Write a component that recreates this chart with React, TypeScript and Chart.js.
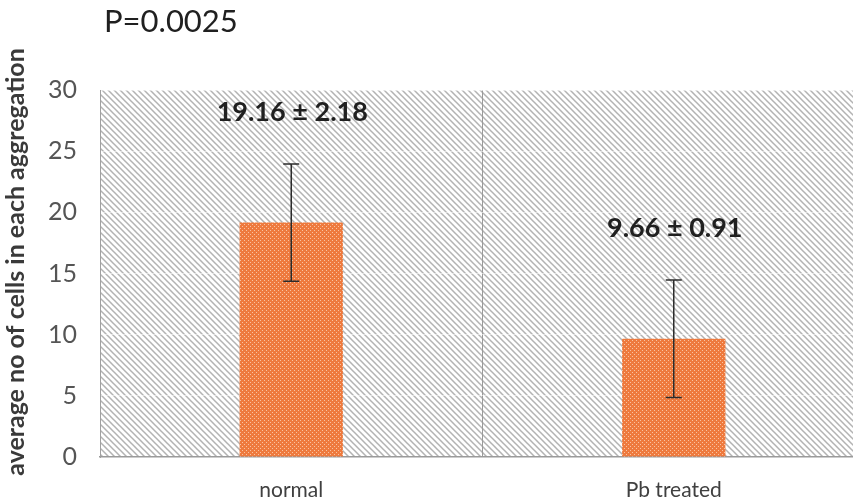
import React, { useEffect, useRef } from "react";
import { Chart, registerables } from "chart.js";

Chart.register(...registerables);

const categories = ["normal", "Pb treated"];
const means = [19.16, 9.66];
const errors = [4.8, 4.8];
const valueLabels = ["19.16 ± 2.18", "9.66 ± 0.91"];
const titleText = "P=0.0025";
const yTitle = "average no of cells in each aggregation";
const yMin = 0;
const yMax = 30;
const yStep = 5;

const FONT = "Lato, 'Open Sans', sans-serif";

function makeHatch(): CanvasPattern | string {
  const c = document.createElement("canvas");
  c.width = 6;
  c.height = 6;
  const g = c.getContext("2d");
  if (!g) return "#ddd";
  g.fillStyle = "#ffffff";
  g.fillRect(0, 0, 6, 6);
  g.strokeStyle = "#b3b3b3";
  g.lineWidth = 1.5;
  g.beginPath();
  g.moveTo(-1, -1);
  g.lineTo(7, 7);
  g.moveTo(-4, 2);
  g.lineTo(4, 10);
  g.moveTo(2, -4);
  g.lineTo(10, 4);
  g.stroke();
  return g.createPattern(c, "repeat") || "#ddd";
}

function makeDots(): CanvasPattern | string {
  const c = document.createElement("canvas");
  c.width = 4;
  c.height = 4;
  const g = c.getContext("2d");
  if (!g) return "#ef7f45";
  g.fillStyle = "#ee7a3e";
  g.fillRect(0, 0, 4, 4);
  g.fillStyle = "#f9c3a2";
  g.fillRect(0, 0, 1, 1);
  g.fillRect(2, 2, 1, 1);
  return g.createPattern(c, "repeat") || "#ef7f45";
}

export default function App() {
  const ref = useRef<HTMLCanvasElement>(null);

  useEffect(() => {
    if (!ref.current) return;
    const hatch = makeHatch();
    const dots = makeDots();

    const bgPlugin = {
      id: "bgHatch",
      beforeDraw(chart: any) {
        const { ctx, chartArea } = chart;
        ctx.save();
        ctx.fillStyle = hatch;
        ctx.fillRect(chartArea.left, chartArea.top, chartArea.right - chartArea.left, chartArea.bottom - chartArea.top);
        ctx.restore();
      },
    };

    const overlayPlugin = {
      id: "overlay",
      afterDatasetsDraw(chart: any) {
        const { ctx, scales } = chart;
        const y = scales.y;
        const meta = chart.getDatasetMeta(0);
        ctx.save();
        ctx.strokeStyle = "#2b2b2b";
        ctx.lineWidth = 1.5;
        meta.data.forEach((bar: any, i: number) => {
          const x = bar.x;
          const top = y.getPixelForValue(means[i] + errors[i]);
          const bot = y.getPixelForValue(means[i] - errors[i]);
          ctx.beginPath();
          ctx.moveTo(x, top);
          ctx.lineTo(x, bot);
          ctx.moveTo(x - 8, top);
          ctx.lineTo(x + 8, top);
          ctx.moveTo(x - 8, bot);
          ctx.lineTo(x + 8, bot);
          ctx.stroke();
          ctx.fillStyle = "#202020";
          ctx.font = `bold 27px ${FONT}`;
          ctx.textAlign = "center";
          ctx.textBaseline = "middle";
          ctx.fillText(valueLabels[i], x + 1, top - 52);
        });
        ctx.restore();
      },
      afterDraw(chart: any) {
        const { ctx } = chart;
        ctx.save();
        ctx.fillStyle = "#202020";
        ctx.font = `31px ${FONT}`;
        ctx.textAlign = "left";
        ctx.textBaseline = "middle";
        ctx.fillText(titleText, 104, 22);
        ctx.translate(16, 262);
        ctx.rotate(-Math.PI / 2);
        ctx.textAlign = "center";
        ctx.font = `bold 25px ${FONT}`;
        ctx.fillStyle = "#3a3a3a";
        ctx.fillText(yTitle, 0, 0);
        ctx.restore();
      },
    };

    const chart = new Chart(ref.current, {
      type: "bar",
      data: {
        labels: categories,
        datasets: [
          {
            data: means,
            backgroundColor: dots as any,
            borderWidth: 0,
            categoryPercentage: 1,
            barPercentage: 0.27,
          },
        ],
      },
      options: {
        responsive: false,
        animation: false,
        layout: { padding: { top: 90, right: 5, left: 0, bottom: 0 } },
        plugins: {
          legend: { display: false },
          tooltip: { enabled: false },
          title: { display: false },
        },
        scales: {
          x: {
            grid: { display: true, offset: true, color: "#9a9a9a", lineWidth: 1, drawTicks: false },
            border: { display: true, color: "#9a9a9a", width: 1.5 },
            ticks: { font: { family: FONT, size: 21 }, color: "#404040", padding: 21 },
            afterFit(scale: any) {
              scale.height = 44;
            },
          },
          y: {
            min: yMin,
            max: yMax,
            ticks: { stepSize: yStep, font: { family: FONT, size: 25 }, color: "#555555", padding: 23 },
            grid: { color: "rgba(255,255,255,0.55)", drawTicks: false, lineWidth: 1 },
            border: { display: true, color: "#a0a0a0", width: 1 },
            afterFit(scale: any) {
              scale.width = 100;
            },
          },
        },
      },
      plugins: [bgPlugin, overlayPlugin],
    });
    return () => chart.destroy();
  }, []);

  return (
    <div style={{ position: "absolute", left: 0, top: 0, width: 853, height: 501, overflow: "hidden", background: "#fff" }}>
      <canvas ref={ref} width={870} height={501} style={{ width: 870, height: 501, display: "block" }} />
    </div>
  );
}
